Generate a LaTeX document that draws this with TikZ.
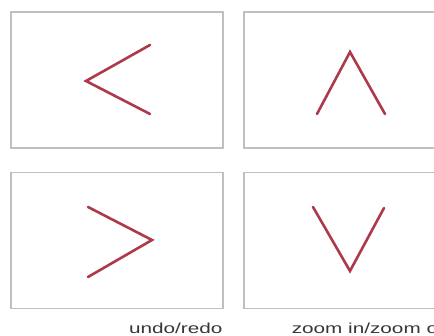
\documentclass[tikz,border=0pt]{standalone}
\usepackage{fontspec}
\setmainfont{Liberation Sans}
\definecolor{frame}{RGB}{192,192,186}
\definecolor{chev}{RGB}{172,58,74}
\definecolor{lbltext}{RGB}{55,55,55}
\begin{document}
\begin{tikzpicture}[x=1pt,y=1pt,
  panel/.style={draw=frame,line width=1.4pt,fill=white,minimum width=212pt,minimum height=136pt,inner sep=0pt},
  chevron/.style={draw=chev,line width=2.6pt,line cap=round,line join=miter},
  lbl/.style={inner sep=0pt,text=lbltext,font=\fontsize{14.5}{16}\selectfont,xscale=1.43}]
  \useasboundingbox (0,0) rectangle (434,336);
  \begin{scope}
  \clip (0,0) rectangle (434,336);
  % four icon panels
  \node[panel] (p1) at (117,256) {};
  \node[panel] (p2) at (350,256) {};
  \node[panel] (p3) at (117,95.5) {};
  \node[panel] (p4) at (350,95.5) {};
  % chevron glyphs
  \draw[chevron] (150,291) -- (86,255) -- (150,222);
  \draw[chevron] (317,222) -- (350,284) -- (385,222);
  \draw[chevron] (88,129) -- (152,96) -- (88,59);
  \draw[chevron] (313,129) -- (350,65) -- (384,128);
  % captions
  \node[lbl,anchor=base east] (c1) at ([xshift=-1pt,yshift=-24.5pt]p3.south east) {undo/redo};
  \node[lbl,anchor=base east] (c2) at ([xshift=-1pt,yshift=-24.5pt]p4.south east) {zoom in/zoom out};
  \end{scope}
\end{tikzpicture}
\end{document}
